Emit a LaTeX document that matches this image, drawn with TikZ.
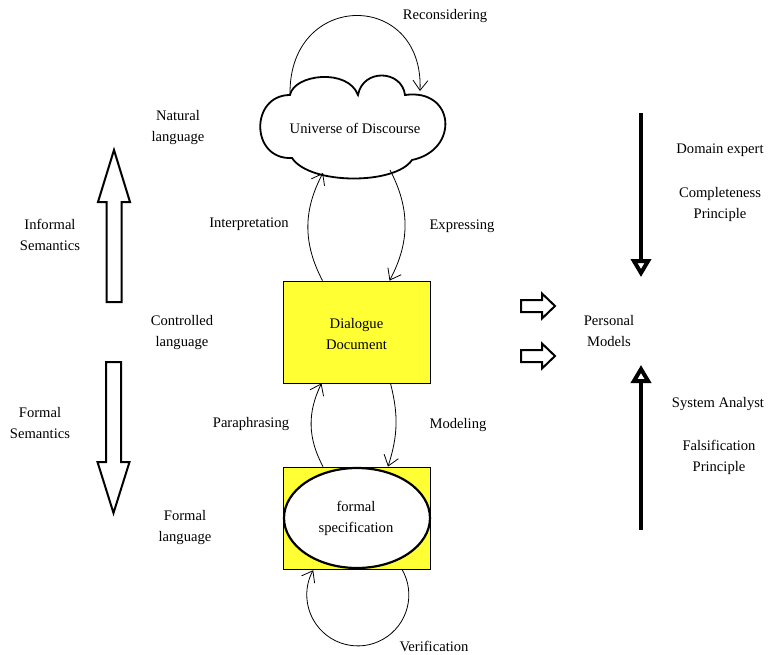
\documentclass[tikz,border=0pt]{standalone}
\usepackage{fontspec}
\setmainfont{Liberation Serif}
\usepackage{tikz}
\usetikzlibrary{shapes.geometric, arrows.meta, positioning}
\definecolor{dlgyellow}{RGB}{255, 255, 51}
\tikzset{
  txt/.style = {
    font=\fontsize{14.6}{21}\selectfont,
    align=center,
    inner sep=0pt
  },
  uodframe/.style = {
    rectangle,
    txt,
    minimum width=186pt,
    minimum height=100pt
  },
  cloudline/.style = {
    draw=black,
    fill=white,
    line width=1.8pt,
    line join=miter
  },
  docbox/.style = {
    rectangle,
    draw=black,
    fill=dlgyellow,
    line width=0.8pt,
    minimum width=147pt,
    minimum height=102pt,
    inner sep=0pt
  },
  specoval/.style = {
    ellipse,
    draw=black,
    fill=white,
    line width=2.2pt,
    minimum width=146pt,
    minimum height=100pt,
    inner sep=0pt
  },
  loopflow/.style = {
    -{Straight Barb[length=10pt, width=15pt]},
    line width=0.8pt
  },
  hollowarrow/.style = {
    draw=black,
    fill=white,
    line width=2pt,
    line join=miter
  },
  rolearrow/.style = {
    -{Triangle[open, length=18pt, width=20pt]},
    line width=4pt
  }
}

\begin{document}
\begin{tikzpicture}[x=1pt, y=-1pt]
  \useasboundingbox (0,0) rectangle (768,654);

  % Cloud outline
  \draw[cloudline] (290,95) .. controls (294,74) and (348,68) .. (358,95)
    .. controls (363,68) and (402,70) .. (405,95)
    .. controls (455,88) and (460,150) .. (412,160)
    .. controls (395,185) and (310,185) .. (292,158)
    .. controls (250,160) and (250,95) .. (290,95) -- cycle;

  % Central nodes
  \node[uodframe] (uod) at (355,128) {Universe of Discourse};
  \node[docbox, txt] (dd) at (356.5,332) {};
  \node[txt] (ddtext) at (356.5,333.5) {Dialogue\\Document};
  \node[docbox] (fsbox) at (357,518) {};
  \node[specoval] (fs) at (fsbox) {};
  \node[txt] (fstext) at (356,518) {formal\\specification};

  % Loops between levels
  \draw[loopflow] ([shift={(-65,-34)}]uod.center) .. controls ([shift={(-66,-138)}]uod.center) and ([shift={(69,-138)}]uod.center) .. ([shift={(65,-37)}]uod.center);
  \node[txt] (reconsider) at (445,16) {Reconsidering};

  \draw[loopflow] ([xshift=-34pt]dd.north) to[bend left=28] ([shift={(-32,45)}]uod.center);
  \node[txt] (interpret) at (249,224) {Interpretation};

  \draw[loopflow] ([shift={(35,42)}]uod.center) to[bend left=28] ([xshift=33pt]dd.north);
  \node[txt] (express) at (462,226) {Expressing};

  \draw[loopflow] ([xshift=-34pt]fsbox.north) to[bend left=27] ([xshift=-35pt]dd.south);
  \node[txt] (paraphrase) at (251,424) {Paraphrasing};

  \draw[loopflow] ([xshift=34pt]dd.south) to[bend left=16] ([xshift=31pt]fsbox.north);
  \node[txt] (modeling) at (458,425) {Modeling};

  \draw[loopflow] ([xshift=45pt]fsbox.south) arc[start angle=30, end angle=-209, radius=51pt];
  \node[txt] (verify) at (434,646) {Verification};

  % Language levels
  \node[txt] (natlang) at (178,127.5) {Natural\\language};
  \node[txt] (ctrllang) at (182,332.5) {Controlled\\language};
  \node[txt] (formlang) at (185,527.5) {Formal\\language};
  \node[txt] (informal) at (50,234.5) {Informal\\Semantics};
  \node[txt] (formal) at (40,422.5) {Formal\\Semantics};

  \draw[hollowarrow] (114,150) -- (130,202) -- (121.5,202) -- (121.5,302) -- (106.5,302)
    -- (106.5,202) -- (98,202) -- cycle;
  \draw[hollowarrow] (113.5,513) -- (129.5,462) -- (121,462) -- (121,362) -- (106,362)
    -- (106,462) -- (97.5,462) -- cycle;

  % Personal models
  \node[txt] (personal) at (609,330.5) {Personal\\Models};
  \draw[hollowarrow] (521,300) -- (542,300) -- (542,293.5) -- (555,306) -- (542,318.5)
    -- (542,312) -- (521,312) -- cycle;
  \draw[hollowarrow] (521,350) -- (542,350) -- (542,343.5) -- (555,356) -- (542,368.5)
    -- (542,362) -- (521,362) -- cycle;

  \coordinate (expertend) at (641,113);
  \coordinate (analystend) at (641,530);
  \draw[rolearrow] (expertend) -- ([yshift=53.5pt]personal.center -| expertend);
  \draw[rolearrow] (analystend) -- ([yshift=-34.5pt]personal.center -| analystend);

  \node[txt] (expert) at (720,150.5) {Domain expert};
  \node[txt] (complete) at (720,204.5) {Completeness\\Principle};
  \node[txt] (analyst) at (718,404.5) {System Analyst};
  \node[txt] (falsify) at (719,457.5) {Falsification\\Principle};
\end{tikzpicture}
\end{document}
